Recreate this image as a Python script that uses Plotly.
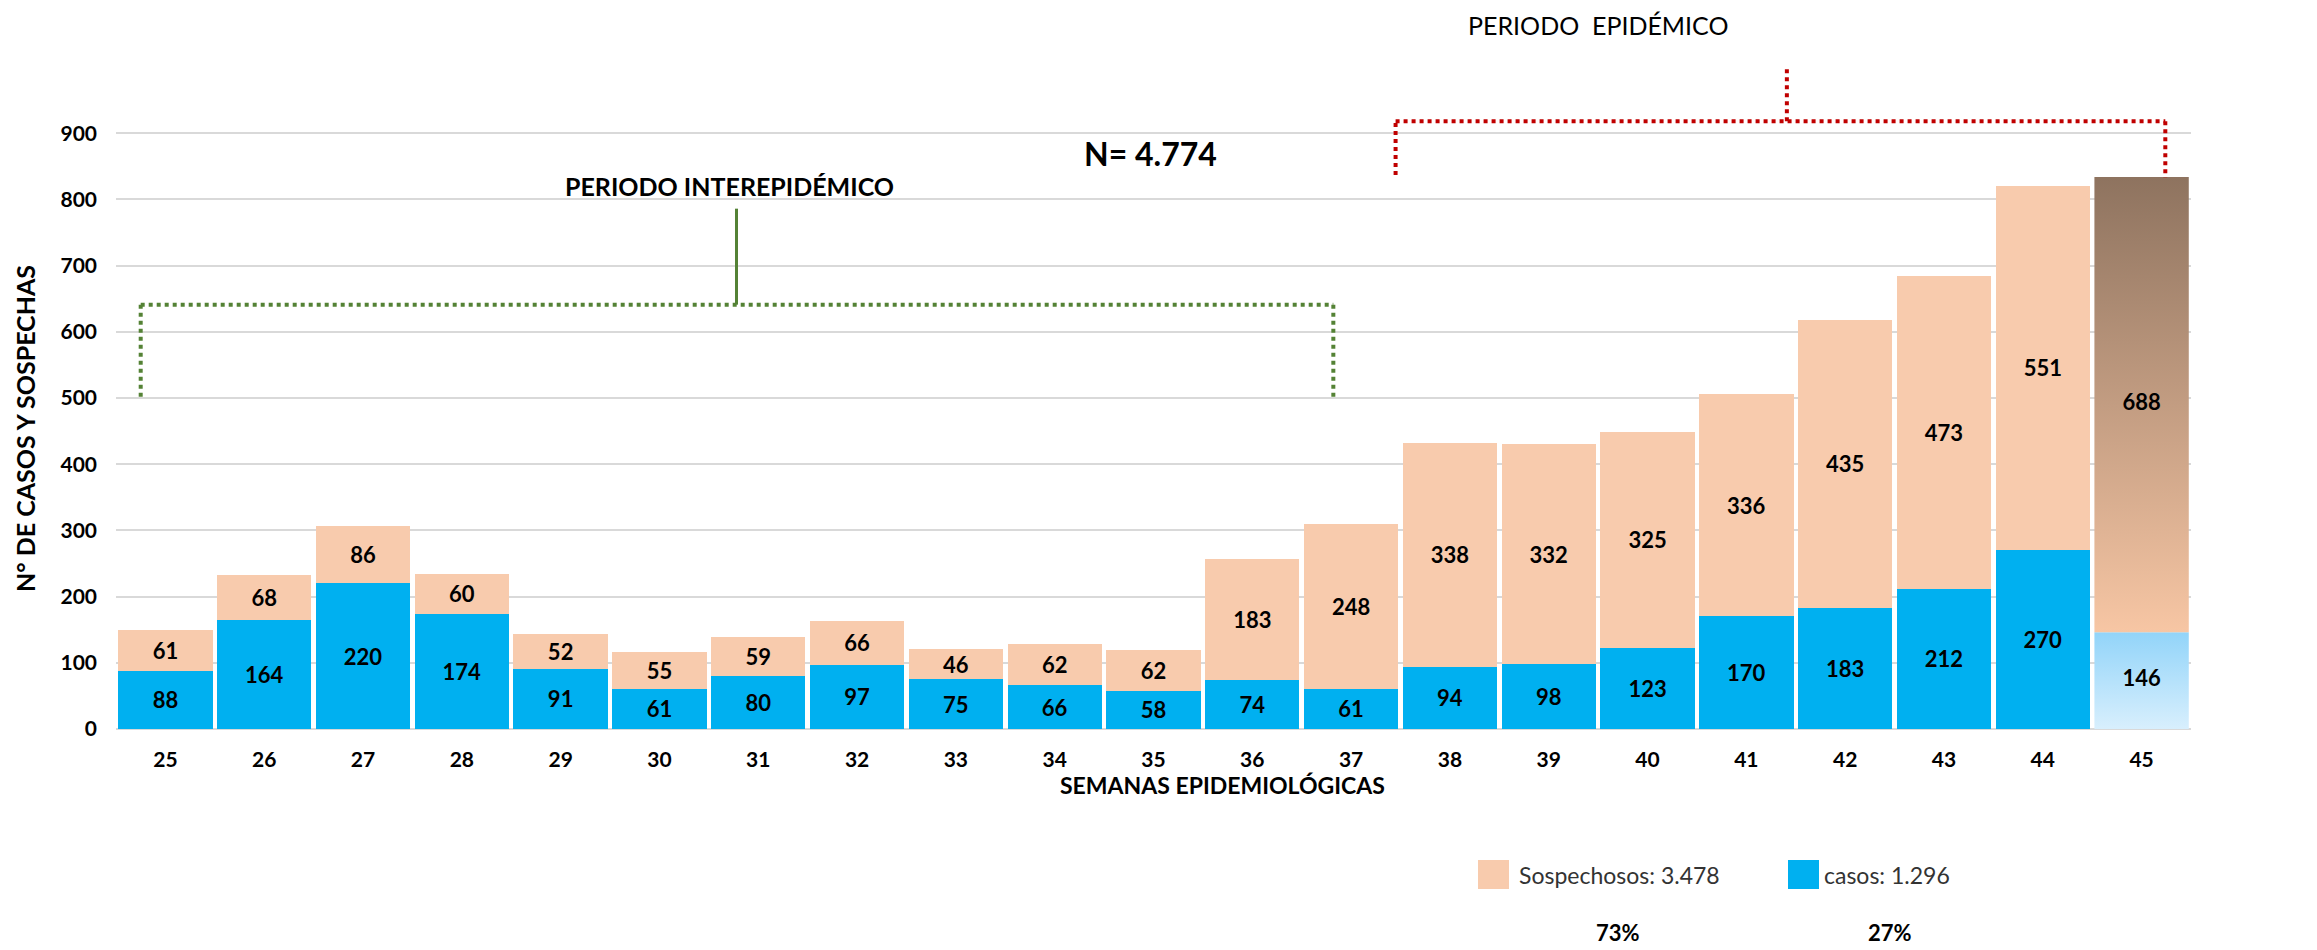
import plotly.graph_objects as go

weeks = [25, 26, 27, 28, 29, 30, 31, 32, 33, 34, 35, 36, 37, 38, 39, 40, 41, 42, 43, 44, 45]
casos = [88, 164, 220, 174, 91, 61, 80, 97, 75, 66, 58, 74, 61, 94, 98, 123, 170, 183, 212, 270, 146]
sospechosos = [61, 68, 86, 60, 52, 55, 59, 66, 46, 62, 62, 183, 248, 338, 332, 325, 336, 435, 473, 551, 688]
y_ticks = [0, 100, 200, 300, 400, 500, 600, 700, 800, 900]
legend_labels = ["Sospechosos: 3.478", "casos: 1.296"]
legend_pcts = ["73%", "27%"]

# the page body has an 8px margin; size the figure so it fills the window
OFF = 8
W, H = 2301, 942
ML, MR, MT, MB = 108, 118, 59, 221
PW, PH = W - ML - MR, H - MT - MB
FONT = "Lato"
Y_TOP = 1000

def px_x(px):
    # window pixel x -> paper x
    return (px - OFF - ML) / PW

def px_y(py):
    # window pixel y -> paper y
    return (H - MB - (py - OFF)) / PH

C_CASOS = "#00B0F0"
C_SOSP = "#F8CBAD"
BARW = 0.955
n = len(weeks)
idx = list(range(n))
last = n - 1

def ix(i):
    return (i + 0.5) / n

def vy(v):
    return v / Y_TOP

fig = go.Figure()

lab_font = dict(family=FONT, size=22, color="#000000", weight="bold")

fig.add_trace(go.Bar(
    x=idx, y=casos, width=BARW,
    marker=dict(color=[C_CASOS] * last + ["rgba(0,0,0,0)"], line=dict(width=0)),
    text=[str(v) for v in casos[:last]] + [""],
    textposition="inside", insidetextanchor="middle", textangle=0,
    constraintext="none", textfont=lab_font, showlegend=False, name="casos",
))
fig.add_trace(go.Bar(
    x=idx, y=sospechosos, width=BARW,
    marker=dict(color=[C_SOSP] * last + ["rgba(0,0,0,0)"], line=dict(width=0)),
    text=[str(v) for v in sospechosos[:last]] + [""],
    textposition="inside", insidetextanchor="middle", textangle=0,
    constraintext="none", textfont=lab_font, showlegend=False, name="Sospechosos",
))

# gradient-filled last bar (week 45)
x0, x1 = last - BARW / 2, last + BARW / 2
c_last, s_last = casos[last], sospechosos[last]
fig.add_trace(go.Scatter(
    x=[x0, x1, x1, x0, x0], y=[0, 0, c_last, c_last, 0],
    mode="none", fill="toself", hoverinfo="skip", showlegend=False,
    fillgradient=dict(type="vertical", start=0, stop=c_last,
                      colorscale=[[0, "#D8EFFD"], [1, "#92D4F9"]]),
))
fig.add_trace(go.Scatter(
    x=[x0, x1, x1, x0, x0], y=[c_last, c_last, c_last + s_last, c_last + s_last, c_last],
    mode="none", fill="toself", hoverinfo="skip", showlegend=False,
    fillgradient=dict(type="vertical", start=c_last, stop=c_last + s_last,
                      colorscale=[[0, "#F7C6A4"], [1, "#8E735F"]]),
))
fig.add_trace(go.Scatter(
    x=[last, last], y=[c_last / 2, c_last + s_last / 2],
    mode="text", text=[str(c_last), str(s_last)], textfont=lab_font,
    hoverinfo="skip", showlegend=False,
))

GREEN = "#548235"
RED = "#C00000"
shapes = []
def seg(xa, ya, xb, yb, color, dash="dot", width=4):
    shapes.append(dict(type="line", xref="paper", yref="paper",
                       x0=ix(xa), y0=vy(ya), x1=ix(xb), y1=vy(yb),
                       line=dict(color=color, width=width, dash=dash)))

# green bracket (interepidemic)
seg(-0.25, 502, -0.25, 641, GREEN)
seg(-0.25, 641, 11.82, 641, GREEN)
seg(11.82, 641, 11.82, 502, GREEN)
seg(5.78, 641, 5.78, 786, GREEN, dash="solid", width=3)
# red bracket (epidemic)
seg(12.45, 837, 12.45, 918, RED)
seg(12.45, 918, 20.24, 918, RED)
seg(20.24, 918, 20.24, 833, RED)
seg(16.41, 918, 16.41, 1002, RED)

# custom legend swatches
shapes.append(dict(type="rect", xref="paper", yref="paper",
                   x0=px_x(1478), x1=px_x(1509), y0=px_y(889), y1=px_y(860),
                   fillcolor=C_SOSP, line=dict(width=0)))
shapes.append(dict(type="rect", xref="paper", yref="paper",
                   x0=px_x(1788), x1=px_x(1819), y0=px_y(889), y1=px_y(860),
                   fillcolor=C_CASOS, line=dict(width=0)))

ann = []
def add_text(x, y, text, size, bold=True, color="#000", **kw):
    ann.append(dict(x=x, y=y, xref="paper", yref="paper", text=text, showarrow=False,
                    xanchor=kw.pop("xanchor", "center"), yanchor=kw.pop("yanchor", "middle"),
                    font=dict(family=FONT, size=size, color=color,
                              weight="bold" if bold else "normal"), **kw))

add_text(ix(5.71), vy(820), "PERIODO INTEREPIDÉMICO", 25)
add_text(ix(9.97), vy(869), "N= 4.774", 32)
add_text(ix(14.5), px_y(8.5), "PERIODO  EPIDÉMICO", 25, bold=False, yanchor="top")
add_text(ix(10.7), vy(-85), "SEMANAS EPIDEMIOLÓGICAS", 23)
add_text(px_x(25), px_y(429), "N° DE CASOS Y SOSPECHAS", 25, textangle=-90)
add_text(px_x(1517), px_y(875), legend_labels[0], 23, bold=False, color="#333333", xanchor="left")
add_text(px_x(1822), px_y(875), legend_labels[1], 23, bold=False, color="#333333", xanchor="left")
add_text(px_x(1618), px_y(932), legend_pcts[0], 22)
add_text(px_x(1890), px_y(932), legend_pcts[1], 22)

fig.update_layout(
    width=W, height=H,
    margin=dict(l=ML, r=MR, t=MT, b=MB, pad=0),
    paper_bgcolor="#FFFFFF", plot_bgcolor="#FFFFFF",
    barmode="stack",
    shapes=shapes, annotations=ann,
    showlegend=False,
    xaxis=dict(range=[-0.5, n - 0.5], tickmode="array", tickvals=idx,
               ticktext=[str(w) for w in weeks], showgrid=False, zeroline=False,
               showline=False, ticks="", ticklabelstandoff=16,
               tickfont=dict(family=FONT, size=21, color="#000", weight="bold")),
    yaxis=dict(range=[0, Y_TOP], tickmode="array", tickvals=y_ticks,
               ticktext=[str(v) for v in y_ticks], showgrid=True,
               gridcolor="#D9D9D9", gridwidth=2, zeroline=True, zerolinecolor="#D9D9D9",
               zerolinewidth=2, ticks="", ticklabelstandoff=18,
               tickfont=dict(family=FONT, size=21, color="#000", weight="bold")),
)

fig.write_html("out.html")
